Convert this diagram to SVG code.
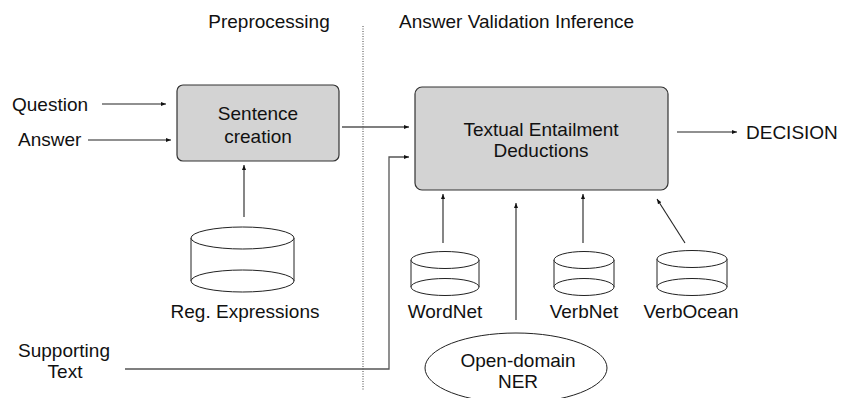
<svg xmlns="http://www.w3.org/2000/svg" width="846" height="398" viewBox="0 0 846 398">
<defs>
<style>
text{font-family:"Liberation Sans",Arial,sans-serif;font-size:19px;fill:#111;}
.box{fill:#d3d3d3;stroke:#333;stroke-width:1.2;}
.cyl{fill:#fff;stroke:#222;stroke-width:1;}
.ln{fill:none;stroke:#222;stroke-width:1.1;}
.gl{fill:none;stroke:#555;stroke-width:1.3;}
</style>
<marker id="ah" viewBox="0 0 10 10" refX="10" refY="5" markerWidth="5" markerHeight="5" orient="auto" markerUnits="userSpaceOnUse">
<path d="M0,1 L10,5 L0,9 z" fill="#111"/>
</marker>
</defs>
<rect width="846" height="398" fill="#fff"/>
<g id="headers">
<text x="269" y="28" text-anchor="middle">Preprocessing</text>
<text x="399" y="28">Answer Validation Inference</text>
<line x1="363" y1="26" x2="363" y2="390" stroke="#444" stroke-width="1" stroke-dasharray="1,1.5"/>
</g>
<g id="connectors">
<line class="ln" x1="102" y1="104" x2="166" y2="104" marker-end="url(#ah)"/>
<line class="ln" x1="88" y1="140" x2="171" y2="140" marker-end="url(#ah)"/>
<line class="gl" x1="342" y1="127" x2="409" y2="127" marker-end="url(#ah)"/>
<polyline class="gl" points="125,369 389,369 389,157 409,157" marker-end="url(#ah)"/>
<line class="ln" x1="244" y1="217" x2="244" y2="165" marker-end="url(#ah)"/>
<line class="ln" x1="443" y1="243" x2="443" y2="194" marker-end="url(#ah)"/>
<line class="ln" x1="516" y1="320" x2="516" y2="203" marker-end="url(#ah)"/>
<line class="ln" x1="583" y1="243" x2="583" y2="194" marker-end="url(#ah)"/>
<line class="ln" x1="685" y1="243" x2="657" y2="199" marker-end="url(#ah)"/>
<line class="ln" x1="677" y1="132" x2="737" y2="132" marker-end="url(#ah)"/>
</g>
<g id="question"><text x="12" y="111">Question</text></g>
<g id="answer"><text x="18" y="146">Answer</text></g>
<g id="supporting"><text x="64" y="357" text-anchor="middle">Supporting</text><text x="65" y="378" text-anchor="middle">Text</text></g>
<g id="decision"><text x="746" y="139">DECISION</text></g>
<g id="sentence-creation">
<rect class="box" x="177" y="85" width="162" height="76" rx="6"/>
<text x="258" y="120" text-anchor="middle">Sentence</text>
<text x="258" y="143" text-anchor="middle">creation</text>
</g>
<g id="textual-entailment">
<rect class="box" x="415" y="87" width="253" height="103" rx="7"/>
<text x="541" y="136" text-anchor="middle">Textual Entailment</text>
<text x="541" y="157" text-anchor="middle">Deductions</text>
</g>
<g id="reg-expressions">
<path class="cyl" d="M191,238 L191,281 A51.5,11 0 0 0 294,281 L294,238"/>
<ellipse class="cyl" cx="242.5" cy="238" rx="51.5" ry="11"/>
<path class="cyl" d="M191,281 A51.5,11 0 0 1 294,281"/>
<text x="245" y="318" text-anchor="middle">Reg. Expressions</text>
</g>
<g id="wordnet">
<path class="cyl" d="M411,260 L411,287 A34,8.5 0 0 0 479,287 L479,260"/>
<ellipse class="cyl" cx="445" cy="260" rx="34" ry="8.5"/>
<path class="cyl" d="M411,287 A34,8.5 0 0 1 479,287"/>
<text x="445" y="318" text-anchor="middle">WordNet</text>
</g>
<g id="verbnet">
<path class="cyl" d="M554,260 L554,287 A30,8.5 0 0 0 614,287 L614,260"/>
<ellipse class="cyl" cx="584" cy="260" rx="30" ry="8.5"/>
<path class="cyl" d="M554,287 A30,8.5 0 0 1 614,287"/>
<text x="584" y="318" text-anchor="middle">VerbNet</text>
</g>
<g id="verbocean">
<path class="cyl" d="M657,259 L657,287 A35,8.5 0 0 0 727,287 L727,259"/>
<ellipse class="cyl" cx="692" cy="259" rx="35" ry="8.5"/>
<path class="cyl" d="M657,287 A35,8.5 0 0 1 727,287"/>
<text x="691" y="318" text-anchor="middle">VerbOcean</text>
</g>
<g id="ner">
<ellipse class="cyl" cx="516" cy="368" rx="91" ry="35"/>
<text x="518" y="367" text-anchor="middle">Open-domain</text>
<text x="518" y="388" text-anchor="middle">NER</text>
</g>
</svg>
